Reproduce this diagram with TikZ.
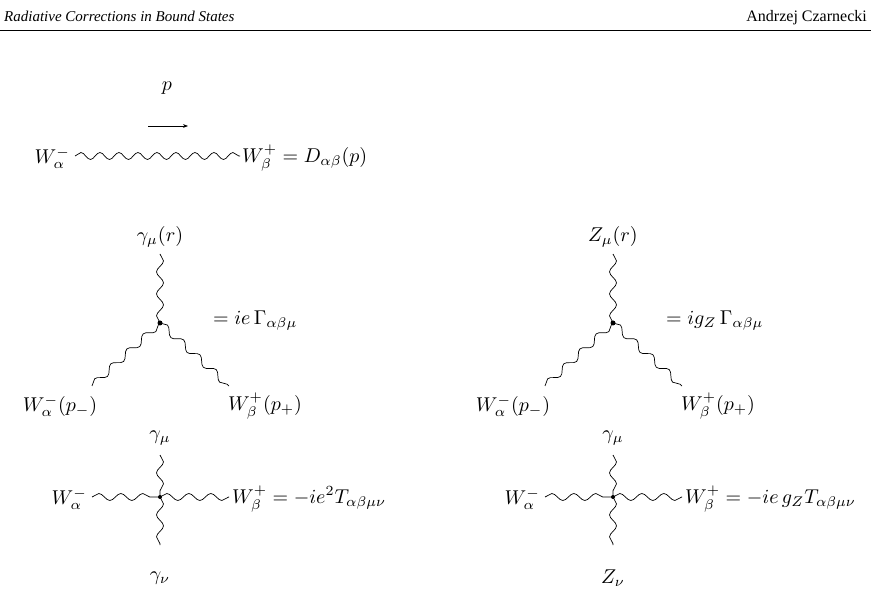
\documentclass[tikz,border=0pt]{standalone}
\usepackage{graphicx}
\usepackage{fontspec}
\setmainfont{Liberation Serif}
\usetikzlibrary{decorations.pathmorphing,arrows.meta}
\newcommand\mlab[1]{\scalebox{2.0}{$#1$}}
\begin{document}
\begin{tikzpicture}[x=1pt,y=-1pt,
  lbl/.style={inner sep=1pt},
  wv/.style={decorate,decoration={snake,segment length=22pt,amplitude=3.5pt},line width=0.7pt},
  wvt/.style={decorate,decoration={snake,segment length=19pt,amplitude=3.5pt},line width=0.7pt},
  dotv/.style={circle,fill,inner sep=0pt,minimum size=5pt}]
\useasboundingbox (0,0) rectangle (871,596);
% header
\node[anchor=base west,font=\fontsize{15}{18}\selectfont\itshape,inner sep=0pt] (h1) at (4,22) {Radiative Corrections in Bound States};
\node[anchor=base east,font=\fontsize{16}{19}\selectfont,inner sep=0pt] (h2) at (867,22) {Andrzej Czarnecki};
\draw[line width=0.5pt] (0,30) coordinate (r1) -- (871,30) coordinate (r2);
% propagator
\node[lbl] (p) at (167,88) {\mlab{p}};
\coordinate (a1) at (148,126); \coordinate (a2) at (188,126);
\draw[-{Stealth[length=5pt]},line width=0.6pt] (a1) -- (a2);
\node[lbl,anchor=east] (wa) at (71,158) {\mlab{W^-_\alpha}};
\coordinate (t1) at (75,156); \coordinate (t2) at (240,156);
\draw[wvt] (t1) -- (t2);
\node[lbl,anchor=west] (wb) at (241,158) {\mlab{W^+_\beta = D_{\alpha\beta}(p)}};
% vertex 1
\foreach \cx/\nm/\top/\rhs in {160/A/{\gamma_\mu(r)}/{=ie\,\Gamma_{\alpha\beta\mu}},613/B/{Z_\mu(r)}/{=ig_Z\,\Gamma_{\alpha\beta\mu}}}{
  \coordinate (v\nm) at (\cx,323);
  \coordinate (u\nm) at (\cx,254);
  \coordinate (l\nm) at (\cx-68,386);
  \coordinate (r\nm) at (\cx+69,386);
  \draw[wv] (u\nm) -- (v\nm);
  \draw[wv] (l\nm) -- (v\nm);
  \draw[wv] (v\nm) -- (r\nm);
  \node[dotv] (d\nm) at (v\nm) {};
  \node[lbl] (tl\nm) at (\cx,237) {\mlab{\top}};
  \node[lbl] (ll\nm) at (\cx-100,406) {\mlab{W^-_\alpha(p_-)}};
  \node[lbl] (rl\nm) at (\cx+105,406) {\mlab{W^+_\beta(p_+)}};
  \node[lbl,anchor=west] (eq\nm) at (\cx+52,321) {\mlab{\rhs}};
}
% quartic
\foreach \cx/\nm/\bot/\rhs in {160/C/{\gamma_\nu}/{W^+_\beta = -ie^2T_{\alpha\beta\mu\nu}},613/D/{Z_\nu}/{W^+_\beta = -ie\,g_ZT_{\alpha\beta\mu\nu}}}{
  \coordinate (v\nm) at (\cx,497);
  \coordinate (u\nm) at (\cx,455);
  \coordinate (b\nm) at (\cx,545);
  \coordinate (l\nm) at (\cx-68,497);
  \coordinate (r\nm) at (\cx+69,497);
  \draw[wv] (u\nm) -- (v\nm);
  \draw[wv] (v\nm) -- (b\nm);
  \draw[wv] (l\nm) -- (v\nm);
  \draw[wv] (v\nm) -- (r\nm);
  \node[dotv,minimum size=4pt] (d\nm) at (v\nm) {};
  \node[lbl] (tl\nm) at (\cx,438) {\mlab{\gamma_\mu}};
  \node[lbl] (bl\nm) at (\cx,578) {\mlab{\bot}};
  \node[lbl,anchor=east] (ll\nm) at (\cx-72,499) {\mlab{W^-_\alpha}};
  \node[lbl,anchor=west] (rl\nm) at (\cx+71,499) {\mlab{\rhs}};
}
\end{tikzpicture}
\end{document}
